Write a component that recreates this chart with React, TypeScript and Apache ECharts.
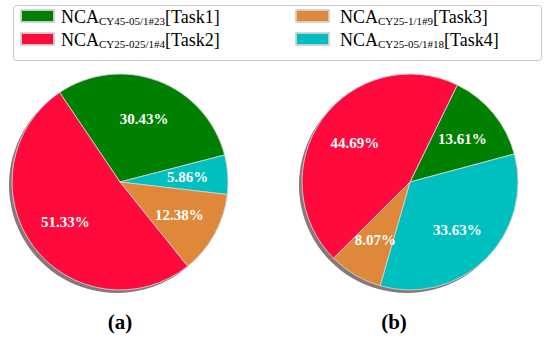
import React, { useEffect, useRef } from "react";
import * as echarts from "echarts";

const categories = ["Task1", "Task2", "Task3", "Task4"];
const subscripts = ["CY45-05/1#23", "CY25-025/1#4", "CY25-1/1#9", "CY25-05/1#18"];
const colors = ["#008000", "#FF0A3C", "#E0883A", "#00BFBF"];
const valuesA = [30.43, 51.33, 12.38, 5.86];
const valuesB = [13.61, 44.69, 8.07, 33.63];
// clockwise drawing order of the slices (indices into categories)
const sliceOrder = [0, 3, 2, 1];
const panelLabels = ["(a)", "(b)"];

const SERIF = "'Liberation Serif', 'Times New Roman', serif";

function pieData(values: number[], transparent: boolean) {
  return sliceOrder.map((i) => ({
    name: categories[i],
    value: values[i],
    itemStyle: transparent
      ? { color: "rgba(0,0,0,0)", borderWidth: 0 }
      : { color: colors[i] },
  }));
}

export default function App() {
  const ref = useRef<HTMLDivElement>(null);
  useEffect(() => {
    if (!ref.current) return;
    const chart = echarts.init(ref.current, undefined, { renderer: "svg" });
    const R = 108;
    const centers = [
      [120, 182],
      [410, 182],
    ];
    const starts = [124, 64];
    const valueSets = [valuesA, valuesB];
    const series: any[] = [];
    centers.forEach((c, k) => {
      series.push({
        type: "pie",
        name: "shadow" + k,
        center: [c[0] - 3, c[1] + 3],
        radius: R,
        silent: true,
        label: { show: false },
        labelLine: { show: false },
        data: [{ name: "shadow", value: 1, itemStyle: { color: "rgba(105,85,88,0.8)" } }],
        z: 1,
      });
      series.push({
        type: "pie",
        name: "pie" + k,
        center: c,
        radius: R,
        startAngle: starts[k],
        clockwise: true,
        silent: true,
        label: { show: false },
        labelLine: { show: false },
        itemStyle: { borderColor: "rgba(210,210,210,0.9)", borderWidth: 1 },
        data: pieData(valueSets[k], false),
        z: 2,
      });
      series.push({
        type: "pie",
        name: "labels" + k,
        center: c,
        radius: [R * 0.2, R],
        startAngle: starts[k],
        clockwise: true,
        silent: true,
        labelLine: { show: false },
        label: {
          show: true,
          position: "inside",
          formatter: (p: any) => p.value.toFixed(2) + "%",
          color: "#ffffff",
          fontFamily: SERIF,
          fontWeight: "bold",
          fontSize: 15,
        },
        data: pieData(valueSets[k], true),
        z: 3,
      });
    });

    const rich = {
      m: { fontFamily: SERIF, fontSize: 18, color: "#000", lineHeight: 20, verticalAlign: "bottom" },
      s: { fontFamily: SERIF, fontSize: 11, color: "#000", lineHeight: 20, verticalAlign: "bottom" },
    };
    const legendFormatter = (name: string) => {
      const i = categories.indexOf(name);
      return `{m|NCA}{s|${subscripts[i]}}{m|[${name}]}`;
    };
    const legendItem = (i: number) => ({
      name: categories[i],
      itemStyle: { color: colors[i] },
    });
    const legendBase = {
      orient: "vertical",
      top: 8,
      padding: 0,
      itemWidth: 33,
      itemHeight: 12,
      itemGap: 5,
      icon: "rect",
      selectedMode: false,
      formatter: legendFormatter,
      textStyle: { rich, padding: [0, 0, 0, 2] },
    };

    chart.setOption({
      animation: false,
      backgroundColor: "#ffffff",
      legend: [
        { ...legendBase, left: 20, data: [legendItem(0), legendItem(1)] },
        { ...legendBase, left: 295, data: [legendItem(2), legendItem(3)], textStyle: { rich, padding: [0, 0, 0, 6] } },
      ],
      graphic: [
        {
          type: "rect",
          shape: { x: 13.5, y: 5.5, width: 528, height: 55, r: 3 },
          style: { fill: "none", stroke: "#c8c8c8", lineWidth: 1 },
          z: 0,
        },
        ...panelLabels.map((t, k) => ({
          type: "text",
          x: k === 0 ? 120 : 394,
          y: 322,
          style: {
            text: t,
            fontFamily: SERIF,
            fontWeight: "bold",
            fontSize: 21,
            fill: "#000",
            align: "center",
            verticalAlign: "middle",
          },
        })),
      ],
      series,
    });
    return () => chart.dispose();
  }, []);
  return (
    <div
      ref={ref}
      style={{ position: "fixed", left: 0, top: 0, width: 550, height: 338 }}
    />
  );
}
